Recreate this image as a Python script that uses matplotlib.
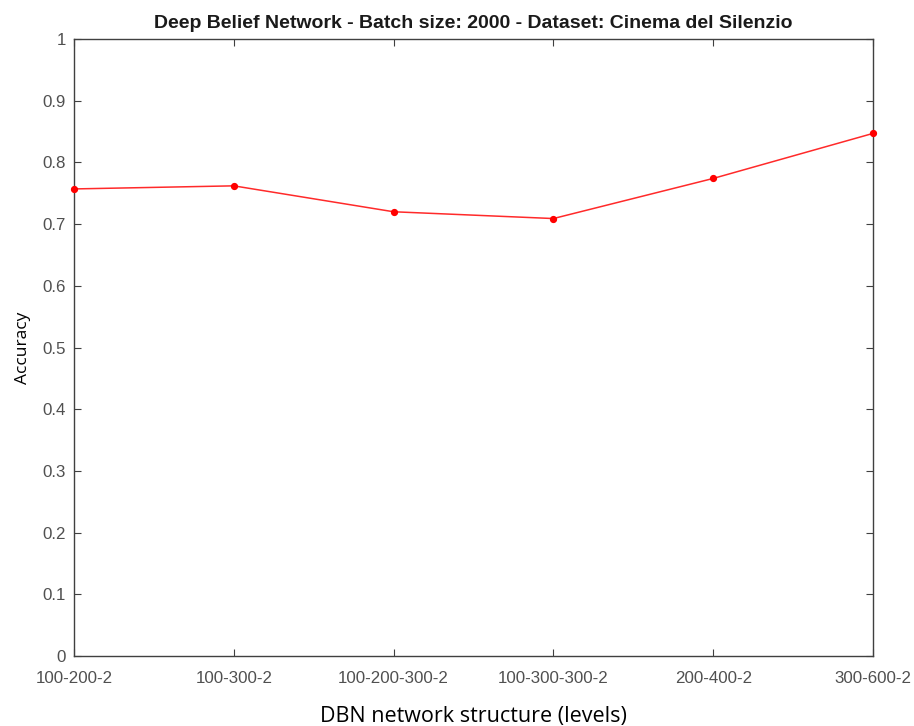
import matplotlib
matplotlib.use("Agg")
import matplotlib.pyplot as plt
from matplotlib.ticker import FixedLocator, FuncFormatter

structures = ["100-200-2", "100-300-2", "100-200-300-2",
              "100-300-300-2", "200-400-2", "300-600-2"]
accuracy = [0.757, 0.762, 0.720, 0.709, 0.774, 0.847]
y_ticks = [i / 10 for i in range(11)]

fig = plt.figure(figsize=(9.14, 7.26), dpi=100)
ax = fig.add_axes([74 / 914, 1 - 656 / 726, (873 - 74) / 914, (656 - 39) / 726])

x = list(range(len(structures)))
ax.plot(x, accuracy, color="#ff2a2a", linewidth=1.1, marker="o",
        markersize=4.2, markerfacecolor="red", markeredgecolor="red",
        clip_on=False, zorder=3)

ax.set_xlim(0, len(structures) - 1)
ax.set_ylim(0, 1)
ax.set_xticks(x)
ax.set_xticklabels(structures)
ax.yaxis.set_major_locator(FixedLocator(y_ticks))
ax.yaxis.set_major_formatter(FuncFormatter(lambda v, p: f"{v:g}"))

for s in ax.spines.values():
    s.set_color("#404040")
    s.set_linewidth(1.0)
ax.tick_params(direction="in", length=5, width=0.8, color="#404040",
               top=True, right=True, labelsize=12.2, labelcolor="#505050")
ax.tick_params(axis="x", pad=11)
ax.tick_params(axis="y", pad=6)
for lbl in ax.get_xticklabels() + ax.get_yticklabels():
    lbl.set_family("Liberation Sans")

ax.set_title("Deep Belief Network - Batch size: 2000 - Dataset: Cinema del Silenzio",
             fontsize=14, fontweight="bold", family="Liberation Sans",
             color="#1a1a1a", pad=8)
ax.set_xlabel("DBN network structure (levels)", fontsize=15.5,
              family="Open Sans", color="black", labelpad=14)
ax.set_ylabel("Accuracy", fontsize=12.5, family="Open Sans",
              color="black", labelpad=8)

fig.savefig("out.png", dpi=100, facecolor="white")
